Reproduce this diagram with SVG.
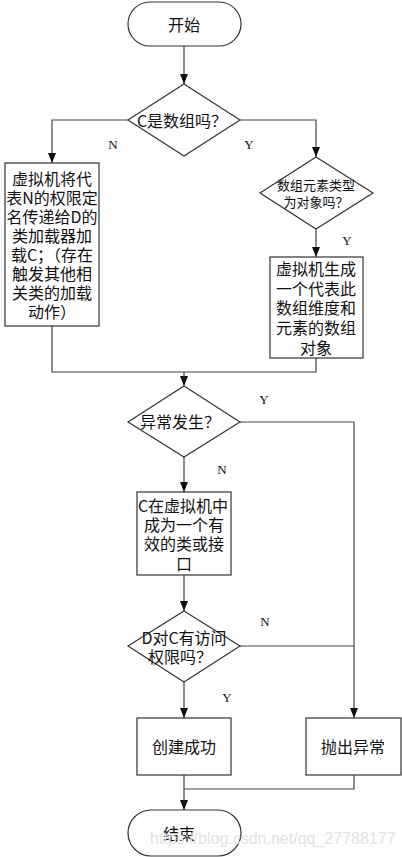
<svg xmlns="http://www.w3.org/2000/svg" width="402" height="857" viewBox="0 0 402 857">
<style>
.shape{fill:#fff;stroke:#333;stroke-width:1.2}
.line{fill:none;stroke:#444;stroke-width:1.2}
.t{font-family:"Noto Sans CJK SC","Noto Sans",sans-serif;font-size:16px;fill:#111;text-anchor:middle;dominant-baseline:central}
.ts{font-size:13px}
.lbl{font-family:"Liberation Serif",serif;font-size:13px;fill:#111;text-anchor:middle;dominant-baseline:central}
.wm{font-family:"Liberation Sans",Arial,sans-serif;font-size:16px;fill:#e2e2e2;dominant-baseline:central}
</style>
<defs>
<marker id="arr" markerUnits="userSpaceOnUse" markerWidth="10" markerHeight="10" viewBox="0 0 10 10" refX="10" refY="5" orient="auto">
<path d="M0,1 L10,5 L0,9 Z" fill="#111"/>
</marker>
</defs>
<rect width="402" height="857" fill="#fff"/>
<g id="connectors">
<path class="line" d="M184,46 V84" marker-end="url(#arr)"/>
<path class="line" d="M128,120 H52 V163" marker-end="url(#arr)"/>
<path class="line" d="M240,120 H316 V157" marker-end="url(#arr)"/>
<path class="line" d="M316,229 V257" marker-end="url(#arr)"/>
<path class="line" d="M52,326 V372 H316 V358"/>
<path class="line" d="M184,372 V386" marker-end="url(#arr)"/>
<path class="line" d="M240,422 H354 V718" marker-end="url(#arr)"/>
<path class="line" d="M184,457 V492" marker-end="url(#arr)"/>
<path class="line" d="M184,575 V611" marker-end="url(#arr)"/>
<path class="line" d="M240,646 H354"/>
<path class="line" d="M184,682 V718" marker-end="url(#arr)"/>
<path class="line" d="M354,775 V789 H184"/>
<path class="line" d="M184,775 V810" marker-end="url(#arr)"/>
<text class="lbl" x="113" y="144">N</text>
<text class="lbl" x="249" y="144">Y</text>
<text class="lbl" x="347" y="240">Y</text>
<text class="lbl" x="264" y="399">Y</text>
<text class="lbl" x="222" y="469">N</text>
<text class="lbl" x="265" y="621">N</text>
<text class="lbl" x="227" y="697">Y</text>
</g>
<g id="start">
<rect class="shape" x="128" y="2" width="113" height="44" rx="22"/>
<text class="t" x="184" y="24">开始</text>
</g>
<g id="isArray">
<polygon class="shape" points="184,84 240,120 184,156 128,120"/>
<text class="t" x="182" y="120">C是数组吗？</text>
</g>
<g id="loadByD">
<rect class="shape" x="5" y="163" width="94" height="163"/>
<text class="t" x="52" y="178">虚拟机将代</text>
<text class="t" x="52" y="197">表N的权限定</text>
<text class="t" x="52" y="216">名传递给D的</text>
<text class="t" x="52" y="235">类加载器加</text>
<text class="t" x="52" y="254">载C；（存在</text>
<text class="t" x="52" y="273">触发其他相</text>
<text class="t" x="52" y="292">关类的加载</text>
<text class="t" x="52" y="311">动作）</text>
</g>
<g id="isObject">
<polygon class="shape" points="316,157 373,193 316,229 260,193"/>
<text class="t ts" x="316" y="184">数组元素类型</text>
<text class="t ts" x="316" y="201">为对象吗？</text>
</g>
<g id="genArray">
<rect class="shape" x="270" y="257" width="93" height="101"/>
<text class="t" x="316" y="268">虚拟机生成</text>
<text class="t" x="316" y="288">一个代表此</text>
<text class="t" x="316" y="307">数组维度和</text>
<text class="t" x="316" y="327">元素的数组</text>
<text class="t" x="316" y="347">对象</text>
</g>
<g id="exception">
<polygon class="shape" points="184,386 240,422 184,457 128,422"/>
<text class="t" x="180" y="421">异常发生？</text>
</g>
<g id="valid">
<rect class="shape" x="137" y="492" width="94" height="83"/>
<text class="t" x="183" y="505">C在虚拟机中</text>
<text class="t" x="184" y="524">成为一个有</text>
<text class="t" x="184" y="543">效的类或接</text>
<text class="t" x="184" y="563">口</text>
</g>
<g id="access">
<polygon class="shape" points="184,611 240,646 184,682 128,646"/>
<text class="t" x="184" y="637">D对C有访问</text>
<text class="t" x="180" y="656">权限吗？</text>
</g>
<g id="success">
<rect class="shape" x="137" y="718" width="94" height="57"/>
<text class="t" x="184" y="746">创建成功</text>
</g>
<g id="throw">
<rect class="shape" x="306" y="718" width="95" height="57"/>
<text class="t" x="353" y="746">抛出异常</text>
</g>
<g id="end">
<rect class="shape" x="128" y="810" width="113" height="46" rx="23"/>
<text class="t" x="179" y="833">结束</text>
</g>
<text class="wm" x="150" y="838">https://blog.csdn.net/qq_27788177</text>
</svg>
